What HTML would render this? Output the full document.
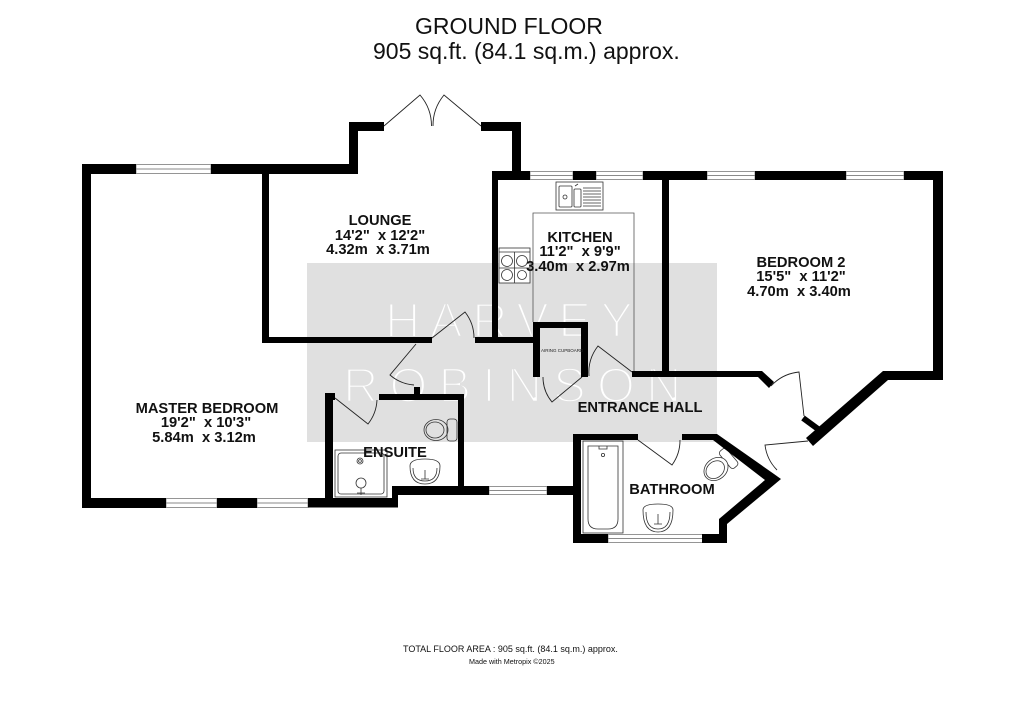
<!DOCTYPE html>
<html><head><meta charset="utf-8">
<style>
html,body{margin:0;padding:0;background:#fff;}
svg{display:block;}
</style></head>
<body>
<svg width="1024" height="706" viewBox="0 0 1024 706" xmlns="http://www.w3.org/2000/svg" font-family="'Liberation Sans', Arial, sans-serif">
<rect width="1024" height="706" fill="#fff"/>

<!-- watermark -->
<rect x="307" y="263" width="410" height="179" fill="#e0e0e0"/>
<g font-size="49" fill="#fff" stroke="#e0e0e0" stroke-width="2.6">
  <text x="385" y="337" letter-spacing="9.5">HARVEY</text>
  <text x="343" y="402" letter-spacing="11">ROBINSON</text>
</g>

<!-- titles -->
<g fill="#111">
  <text x="415" y="34" font-size="23">GROUND FLOOR</text>
  <text x="373" y="59" font-size="23">905 sq.ft. (84.1 sq.m.) approx.</text>
  <text x="403" y="652" font-size="9">TOTAL FLOOR AREA : 905 sq.ft. (84.1 sq.m.) approx.</text>
  <text x="469" y="664" font-size="7.2">Made with Metropix ©2025</text>
</g>

<!-- kitchen fixtures -->
<g fill="none" stroke="#555" stroke-width="0.8">
  <path d="M533,322 V213 H634 V372"/>
</g>
<g stroke="#333" stroke-width="0.8">
  <rect x="556" y="182" width="47" height="28" fill="#fff"/>
  <rect x="559" y="186" width="13" height="21" rx="1" fill="none"/>
  <rect x="574" y="189" width="7" height="18" rx="1" fill="none"/>
  <circle cx="565" cy="197" r="2" fill="none"/>
  <path d="M583,188 H601 M583,191 H601 M583,194 H601 M583,197 H601 M583,200 H601 M583,203 H601 M583,206 H601 M575,186 L578,184" fill="none"/>
  <rect x="499" y="248" width="31" height="35" fill="#fff"/>
  <line x1="499" y1="252" x2="530" y2="252"/>
  <circle cx="507" cy="261" r="5.5" fill="none"/>
  <circle cx="522" cy="261" r="5.5" fill="none"/>
  <circle cx="507" cy="275" r="5.5" fill="none"/>
  <circle cx="522" cy="275" r="4.5" fill="none"/>
  <line x1="514.5" y1="252" x2="514.5" y2="283"/>
  <line x1="499" y1="268" x2="530" y2="268"/>
</g>

<!-- bathroom fixtures -->
<g stroke="#333" stroke-width="0.8" fill="none">
  <rect x="583" y="441" width="40" height="92"/>
  <path d="M588,446 H618 V519 Q618,529 608,529 H598 Q588,529 588,519 Z"/>
  <path d="M599,446 L599,449 H607 V446"/>
  <circle cx="603" cy="455" r="1.6"/>
  <g transform="translate(716,469) rotate(-40)">
    <rect x="12" y="-11" width="9" height="22" rx="3" fill="#fff"/>
    <ellipse cx="0" cy="0" rx="13" ry="10.5" fill="#fff"/>
    <ellipse cx="-1" cy="0" rx="10" ry="8"/>
  </g>
  <path d="M643,510 Q643,532 658,532 Q673,532 673,510 Q673,504 658,504 Q643,504 643,510 Z"/>
  <path d="M646,512 Q646,529 658,529 Q670,529 670,512"/>
  <path d="M658,514 V524 M654,524 H662"/>
</g>

<!-- ensuite fixtures -->
<g stroke="#333" stroke-width="0.8" fill="none">
  <rect x="335" y="450" width="52" height="47"/>
  <rect x="338" y="453" width="46" height="41" rx="3"/>
  <circle cx="360" cy="461" r="3"/>
  <circle cx="360" cy="461" r="1.4"/>
  <circle cx="361" cy="483" r="5"/>
  <path d="M361,488 V495 M357,493 H365"/>
  <rect x="447" y="419" width="10" height="22" rx="3"/>
  <ellipse cx="436" cy="430" rx="12" ry="10.5"/>
  <ellipse cx="435" cy="430" rx="9" ry="8"/>
  <path d="M410,466 Q410,484 425,484 Q440,484 440,466 Q440,459 425,459 Q410,459 410,466 Z"/>
  <path d="M413,468 Q413,481 425,481 Q437,481 437,468"/>
  <path d="M425,470 V479 M421,479 H429"/>
</g>

<!-- doors -->
<g fill="none" stroke="#222" stroke-width="0.9">
  <path d="M384,126 L420,95 A47.5,47.5 0 0 1 431.5,126"/>
  <path d="M481,126 L444,95 A48,48 0 0 0 433,126"/>
  <path d="M432,338 L465,312 A42,42 0 0 1 474,338"/>
  <path d="M416,344 L390,375 A41,41 0 0 0 414,385"/>
  <path d="M335,398 L368,424 A42,42 0 0 0 377,400"/>
  <path d="M582,377 L552,402 A39,39 0 0 1 543,377"/>
  <path d="M632,372 L598,346 A43,43 0 0 0 589,376"/>
  <path d="M638,440 L672,465 A42,42 0 0 0 680,440"/>
  <path d="M804,416 L799,372 A44.5,44.5 0 0 0 771,386"/>
  <path d="M808,441 L765,445 A43,43 0 0 0 777,470"/>
</g>

<!-- windows -->
<g fill="#fff" stroke="#8a8a8a" stroke-width="0.9">
  <rect x="136" y="164.5" width="75" height="9"/>
  <line x1="136" y1="169" x2="211" y2="169"/>
  <rect x="530" y="171.5" width="43" height="8"/>
  <line x1="530" y1="175.5" x2="573" y2="175.5"/>
  <rect x="596" y="171.5" width="47" height="8"/>
  <line x1="596" y1="175.5" x2="643" y2="175.5"/>
  <rect x="707" y="171.5" width="48" height="8"/>
  <line x1="707" y1="175.5" x2="755" y2="175.5"/>
  <rect x="846" y="171.5" width="58" height="8"/>
  <line x1="846" y1="175.5" x2="904" y2="175.5"/>
  <rect x="166" y="498.5" width="51" height="9"/>
  <line x1="166" y1="503" x2="217" y2="503"/>
  <rect x="257" y="498.5" width="51" height="9"/>
  <line x1="257" y1="503" x2="308" y2="503"/>
  <rect x="489" y="486.5" width="58" height="8"/>
  <line x1="489" y1="490.5" x2="547" y2="490.5"/>
  <rect x="608" y="534.5" width="95" height="8"/>
  <line x1="608" y1="538.5" x2="703" y2="538.5"/>
</g>

<!-- walls -->
<g fill="#000">
  <rect x="82" y="164" width="9" height="344"/>
  <rect x="82" y="164" width="54" height="10"/>
  <rect x="211" y="164" width="147" height="10"/>
  <rect x="349" y="122" width="9" height="52"/>
  <rect x="349" y="122" width="35" height="9"/>
  <rect x="481" y="122" width="40" height="9"/>
  <rect x="512" y="122" width="9" height="58"/>
  <rect x="492" y="171" width="38" height="9"/>
  <rect x="573" y="171" width="23" height="9"/>
  <rect x="643" y="171" width="64" height="9"/>
  <rect x="755" y="171" width="91" height="9"/>
  <rect x="904" y="171" width="39" height="9"/>
  <rect x="933" y="171" width="10" height="209"/>
  <polygon points="883,371 943,371 943,380 888,380 813,446 806,438"/>
  <line x1="803" y1="418" x2="818" y2="429" stroke="#000" stroke-width="6"/>
  <rect x="492" y="171" width="6" height="172"/>
  <rect x="262" y="174" width="7" height="169"/>
  <rect x="262" y="337" width="170" height="6"/>
  <rect x="475" y="337" width="62" height="6"/>
  <rect x="533" y="322" width="55" height="6"/>
  <rect x="533" y="322" width="7" height="55"/>
  <rect x="581" y="322" width="7" height="55"/>
  <polygon points="632,371 762,371 774,382 769,388 758,377 632,377"/>
  <rect x="662" y="171" width="7" height="206"/>
  <rect x="573" y="434" width="8" height="109"/>
  <rect x="573" y="434" width="65" height="6"/>
  <polygon points="682,434 717,434 774,474 781,479 727,524 727,543 702,543 702,534 719,534 719,519 765,480 713,440 682,440"/>
  <rect x="573" y="534" width="35" height="9"/>
  <rect x="392" y="486" width="97" height="9"/>
  <rect x="547" y="486" width="26" height="9"/>
  <rect x="325" y="393" width="8" height="114"/>
  <rect x="325" y="393" width="10" height="7"/>
  <rect x="379" y="394" width="85" height="6"/>
  <rect x="414" y="387" width="6" height="8"/>
  <rect x="458" y="394" width="6" height="101"/>
  <rect x="308" y="498" width="90" height="9.5"/>
  <rect x="392" y="486" width="6" height="21.5"/>
  <rect x="82" y="498" width="84" height="10"/>
  <rect x="217" y="498" width="40" height="10"/>
</g>

<!-- tiny label -->
<text x="541" y="352" font-size="4.5" fill="#222">AIRING CUPBOARD</text>

<!-- room labels -->
<g fill="#111" font-weight="bold" font-size="14.7" text-anchor="middle">
  <text x="380" y="225">LOUNGE</text>
  <text x="380" y="240">14'2"&#160; x 12'2"</text>
  <text x="378" y="254">4.32m&#160; x 3.71m</text>

  <text x="580" y="242">KITCHEN</text>
  <text x="580" y="256">11'2"&#160; x 9'9"</text>
  <text x="578" y="271">3.40m&#160; x 2.97m</text>

  <text x="801" y="267">BEDROOM 2</text>
  <text x="801" y="281">15'5"&#160; x 11'2"</text>
  <text x="799" y="296">4.70m&#160; x 3.40m</text>

  <text x="207" y="413">MASTER BEDROOM</text>
  <text x="206" y="427">19'2"&#160; x 10'3"</text>
  <text x="204" y="442">5.84m&#160; x 3.12m</text>

  <text x="640" y="412">ENTRANCE HALL</text>
  <text x="395" y="457">ENSUITE</text>
  <text x="672" y="494">BATHROOM</text>
</g>
</svg>
</body></html>
